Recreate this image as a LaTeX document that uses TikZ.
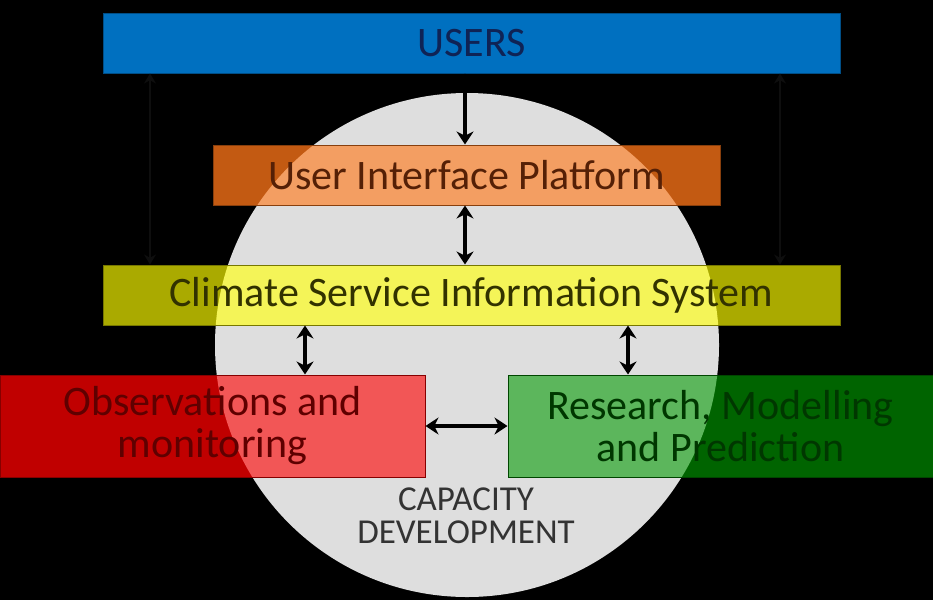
\documentclass[tikz,border=0pt]{standalone}
\usepackage{fontspec}
\setmainfont{Carlito}
\usetikzlibrary{arrows.meta}
\definecolor{bg}{RGB}{0,0,0}
\definecolor{circ}{RGB}{222,222,222}
\definecolor{usersc}{RGB}{0,112,192}
\definecolor{userst}{RGB}{15,35,85}
\definecolor{orout}{RGB}{195,90,18}
\definecolor{orin}{RGB}{243,158,98}
\definecolor{ortx}{RGB}{85,32,6}
\definecolor{yeout}{RGB}{170,170,0}
\definecolor{yein}{RGB}{244,244,88}
\definecolor{yetx}{RGB}{50,50,0}
\definecolor{reout}{RGB}{192,0,0}
\definecolor{rein}{RGB}{242,86,86}
\definecolor{retx}{RGB}{95,0,0}
\definecolor{grout}{RGB}{0,100,0}
\definecolor{grin}{RGB}{92,182,92}
\definecolor{grtx}{RGB}{0,55,0}
\definecolor{faint}{RGB}{14,14,14}
\newcommand\twotone[4]{%
  \fill[#3] #1 rectangle #2;
  \begin{scope}\clip (467,345) circle (252pt); \fill[#4] #1 rectangle #2;\end{scope}}
\tikzset{
  boxtext/.style={draw=#1!70!black, line width=1pt, inner sep=0pt, align=center,
    font=\fontsize{42}{42}\selectfont},
  dbl/.style={line width=3.5pt, draw=black, {Stealth[length=13pt,width=17pt]}-{Stealth[length=13pt,width=17pt]}},
  faintarr/.style={line width=2pt, draw=faint, {Stealth[length=10pt,width=12pt]}-{Stealth[length=10pt,width=12pt]}},
  captext/.style={text=black!80, align=center, font=\fontsize{35}{33}\selectfont}
}
\begin{document}
\begin{tikzpicture}[x=1pt,y=-1pt]
\fill[bg] (0,0) rectangle (933,600);
\useasboundingbox (0,0) rectangle (933,600);
\fill[circ] (467,345) circle (252pt);
% fills
\fill[usersc] (103,13) rectangle (840,73);
\twotone{(213,145)}{(720,205)}{orout}{orin}
\twotone{(103,265)}{(840,325)}{yeout}{yein}
\twotone{(0,375)}{(425,477)}{reout}{rein}
\twotone{(508,375)}{(933,477)}{grout}{grin}
% nodes
\node[boxtext=usersc, text=userst, minimum width=737pt, minimum height=60pt] (users) at (471.5,43) {USERS};
\node[boxtext=orout, text=ortx, minimum width=507pt, minimum height=60pt] (uip) at (466.5,175) {User Interface Platform};
\node[boxtext=yeout, text=yetx, minimum width=737pt, minimum height=60pt] (csis) at (471.5,295) {Climate Service Information System};
\node[boxtext=reout, text=retx, minimum width=425pt, minimum height=102pt] (obs) at (212.5,426) {Observations and\\monitoring};
\node[boxtext=grout, text=grtx, minimum width=425pt, minimum height=102pt] (res) at (720.5,426) {Research, Modelling\\and Prediction};
\node[captext] (cap) at (466,516) {CAPACITY\\DEVELOPMENT};
% connectors
\draw[dbl] (users.south -| 465,0) -- (uip.north -| 465,0);
\draw[dbl] (uip.south -| 465,0) -- (csis.north -| 465,0);
\draw[dbl] (csis.south -| 305,0) -- (obs.north -| 305,0);
\draw[dbl] (csis.south -| 628,0) -- (res.north -| 628,0);
\draw[dbl] (obs.east) -- (res.west);
\draw[faintarr] (users.south -| 150,0) -- (csis.north -| 150,0);
\draw[faintarr] (users.south -| 780,0) -- (csis.north -| 780,0);
\end{tikzpicture}
\end{document}
